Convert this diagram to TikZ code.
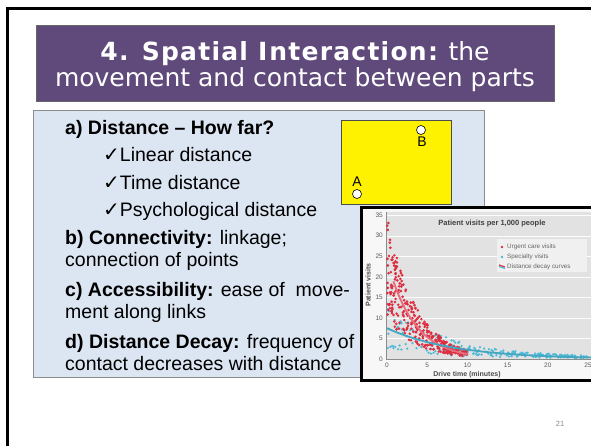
\documentclass[tikz,border=0pt]{standalone}
\usepackage{fontspec}
\setmainfont{Liberation Sans}
\newfontfamily\titlefont{DejaVu Sans}
\newfontfamily\titleboldfont[LetterSpace=5]{DejaVu Sans Bold}
\newfontfamily\checkfont{DejaVu Sans}
\definecolor{titlepurple}{RGB}{96,74,123}
\definecolor{boxblue}{RGB}{220,230,242}
\definecolor{urg}{RGB}{222,45,65}
\definecolor{spec}{RGB}{75,185,215}
\definecolor{panelgray}{RGB}{226,226,226}
\tikzset{
  titletext/.style={anchor=base, text=white, inner sep=0pt, font=\titlefont\fontsize{25}{29}\selectfont},
  bodytext/.style={anchor=base west, inner sep=0pt, font=\fontsize{19.5}{23}\selectfont},
  letter/.style={inner sep=0pt, font=\fontsize{14}{16}\selectfont},
  pt/.style={circle, draw=black, fill=white, line width=0.6pt, inner sep=0pt, minimum size=9pt},
  tick/.style={inner sep=0pt, text=black!65, font=\fontsize{6.5}{7}\selectfont},
  axtitle/.style={inner sep=0pt, text=black!70, font=\bfseries\fontsize{7}{8}\selectfont},
  legtext/.style={anchor=west, inner sep=0pt, text=black!60, font=\fontsize{6.3}{7}\selectfont},
}
\newcommand{\ck}{{\checkfont\fontsize{20}{20}\selectfont ✓}}
\begin{document}
\begin{tikzpicture}[x=1pt,y=-1pt]
\useasboundingbox (0,0) rectangle (591,445);
\clip (0,0) rectangle (591,445);
\fill[white] (0,0) rectangle (591,445);
% slide frame
\draw[line width=2.5pt] (7.5,460) -- (7.5,8.5) -- (600,8.5);
% title bar
\draw[fill=titlepurple, draw=black!60, line width=0.8pt] (36,25) rectangle (554,101);
\node[titletext] (t1) at (295,60) {{\titleboldfont 4. Spatial I\kern2pt nteraction:} the};
\node[titletext] (t2) at (295,86) {movement and contact between parts};
% text box
\draw[fill=boxblue, draw=black!45, line width=0.8pt] (33,110) rectangle (484,377);
\node[bodytext] (la) at (65,134) {\textbf{a) Distance – How far?}};
\node[bodytext] (l1) at (103,161.5) {\ck Linear distance};
\node[bodytext] (l2) at (103,189) {\ck Time distance};
\node[bodytext] (l3) at (103,216.5) {\ck Psychological distance};
\node[bodytext] (lb) at (65,244) {\textbf{b) Connectivity:} linkage;};
\node[bodytext] (lb2) at (65,266.5) {connection of points};
\node[bodytext] (lc) at (65,296) {\textbf{c) Accessibility:} ease of\ \ move-};
\node[bodytext] (lc2) at (65,318.5) {ment along links};
\node[bodytext] (ld) at (65,348) {\textbf{d) Distance Decay:} frequency of};
\node[bodytext] (ld2) at (65,370.5) {contact decreases with distance};
% yellow box
\draw[fill=yellow, draw=black!70, line width=0.6pt] (341,120) rectangle (451,204);
\node[pt] (cb) at (421,130) {};
\node[letter] (lbB) at (422,142) {B};
\node[pt] (ca) at (357,194) {};
\node[letter] (lbA) at (357,182) {A};
% chart
\fill[white!97!black] (361.5,207.5) rectangle (600,380.5);
\fill[panelgray] (386,212) rectangle (600,359.5);
\foreach \v in {5,10,...,35} {
  \draw[white!90!panelgray, line width=0.4pt] (386,{359-4.11*\v}) -- (600,{359-4.11*\v});
}
\draw[black!45, line width=0.5pt] (386.5,212) -- (386.5,359.5) -- (600,359.5);
\foreach \v in {0,5,...,35} {
  \node[tick, anchor=east] (yt\v) at (383,{359-4.11*\v}) {\v};
}
\foreach \t in {0,5,...,25} {
  \node[tick, anchor=north] (xt\t) at ({387+8.04*\t},363) {\t};
}
\node[axtitle] (xtitle) at (467,375) {Drive time (minutes)};
\node[axtitle, rotate=90] (ytitle) at (368,285) {Patient visits};
\node[inner sep=0pt, text=black!75, font=\bfseries\fontsize{7.5}{8}\selectfont] (ctitle) at (492,224) {Patient visits per 1,000 people};
\pgfmathsetseed{4711}
\foreach \i in {1,...,230} {
  \pgfmathsetmacro\tt{25*rnd}
  \pgfmathsetmacro\vv{(7.5*exp(-0.13*\tt)+0.2)*(0.3+1.4*rnd)}
  \fill[spec] ({387+8.04*\tt},{359-4.11*\vv}) circle (1.25pt);
}
\foreach \i in {1,...,330} {
  \pgfmathsetmacro\tt{10*rnd^1.25}
  \pgfmathsetmacro\vv{25*exp(-0.28*\tt)*(0.4+rnd)}
  \fill[urg] ({387+8.04*\tt},{359-4.11*\vv}) circle (1.45pt);
}
\draw[urg!70!white, line width=1.8pt] plot[domain=0.8:10, samples=40, smooth] ({387+8.04*\x},{359-4.11*(24*exp(-0.3*\x))});
\draw[spec!90!black, line width=1.8pt] plot[domain=0:26, samples=40, smooth] ({387+8.04*\x},{359-4.11*(7.5*exp(-0.12*\x))});
% legend
\fill[white!94!black] (497,239) rectangle (587,272);
\fill[urg] (502,247) circle (1.3pt);
\node[legtext] (lg1) at (507,247) {Urgent care visits};
\fill[spec] (502,257) circle (1.3pt);
\node[legtext] (lg2) at (507,257) {Specialty visits};
\draw[urg, line width=1.2pt] (499,265) -- (505,267);
\draw[spec, line width=1.2pt] (499,266.5) -- (505,268.5);
\node[legtext] (lg3) at (507,267) {Distance decay curves};
\draw[line width=2.5pt] (600,207.5) -- (361.5,207.5) -- (361.5,380.5) -- (600,380.5);
% page number
\node[inner sep=0pt, text=black!45, font=\fontsize{7.5}{8}\selectfont] (pg) at (560,424) {21};
\end{tikzpicture}
\end{document}
